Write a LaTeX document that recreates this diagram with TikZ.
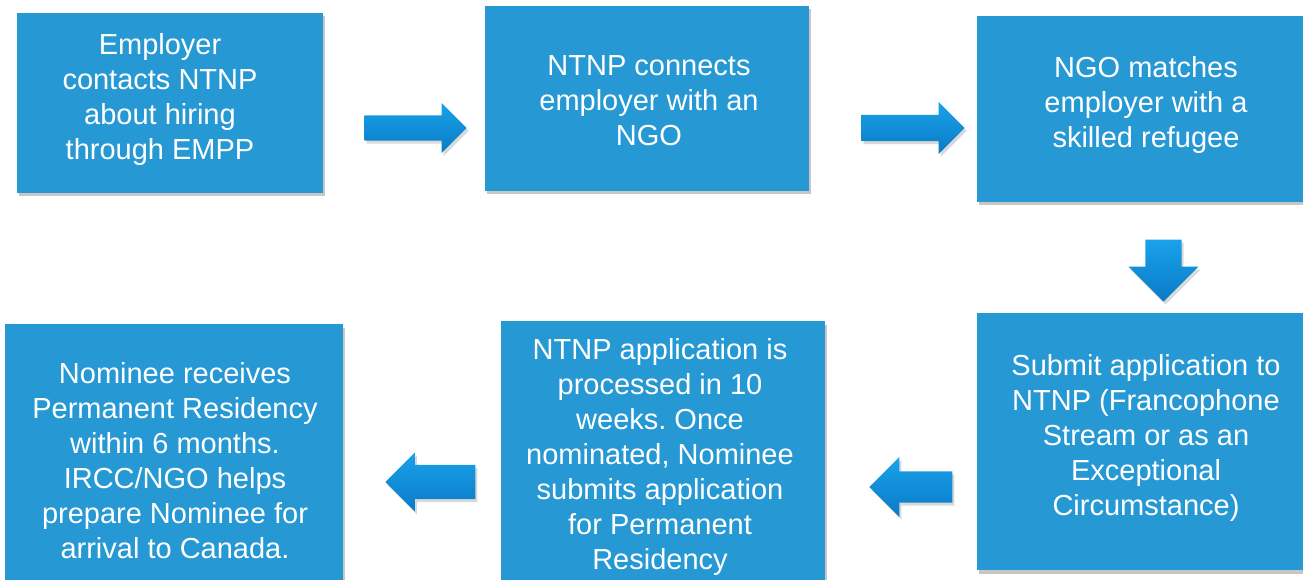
\documentclass[tikz,border=0pt]{standalone}
\usepackage{fontspec}
\setmainfont{Liberation Sans}
\usepackage{xcolor}
\usepackage{tikz}
\usetikzlibrary{shapes,shapes.arrows,positioning,calc,shadows}
\frenchspacing

\definecolor{boxblue}{RGB}{38,152,212}
\definecolor{arrowtop}{RGB}{26,162,234}
\definecolor{arrowbot}{RGB}{10,122,198}

\tikzset{
    stepbox/.style={rectangle, fill=boxblue, inner sep=0pt,
        drop shadow={shadow xshift=2pt, shadow yshift=-3.5pt, opacity=0.22, fill=black}},
    steptext/.style={text=white, align=center, inner sep=0pt,
        font=\fontsize{29}{35}\selectfont},
    flowarrow/.style={single arrow, anchor=tip, top color=arrowtop, bottom color=arrowbot,
        drop shadow={shadow xshift=2pt, shadow yshift=-3pt, opacity=0.15, fill=black}}
}

\begin{document}
\begin{tikzpicture}[x=1pt, y=-1pt]
    \useasboundingbox (0,0) rectangle (1303,580);

    % Top row
    \node[stepbox, minimum width=306pt, minimum height=180pt] (employer) at (170,103) {};
    \node[steptext] (employertxt) at (160,100) {Employer\\contacts NTNP\\about hiring\\through EMPP};
    \node[stepbox, minimum width=324pt, minimum height=185pt] (connect) at (647,98.5) {};
    \node[steptext] (connecttxt) at (649,100.5) {NTNP connects\\employer with an\\NGO};
    \node[stepbox, minimum width=343pt, minimum height=186pt] (match) at (1148.5,109) {};
    \node[steptext] (matchtxt) at (1146,105.5) {NGO matches\\employer with a\\skilled refugee};

    % Bottom row
    \node[stepbox, minimum width=343pt, minimum height=257pt] (submit) at (1148.5,441.5) {};
    \node[steptext] (submittxt) at (1146,438) {Submit application to\\NTNP (Francophone\\Stream or as an\\Exceptional\\Circumstance)};
    \node[stepbox, minimum width=324pt, minimum height=279pt] (process) at (663,460.5) {};
    \node[steptext] (processtxt) at (660,457) {NTNP application is\\processed in 10\\weeks. Once\\nominated, Nominee\\submits application\\for Permanent\\Residency};
    \node[stepbox, minimum width=338pt, minimum height=276pt] (residency) at (174,462) {};
    \node[steptext] (residencytxt) at (175,460.5) {Nominee receives\\Permanent Residency\\within 6 months.\\IRCC/NGO helps\\prepare Nominee for\\arrival to Canada.};

    % Block arrows, placed by their tips (inner sep = half the shaft)
    \node[flowarrow, inner sep=12.5pt, minimum height=102pt, single arrow head extend=12.5pt] (arrowA) at (467,128) {};
    \node[flowarrow, inner sep=13pt, minimum height=103pt, single arrow head extend=13pt] (arrowB) at (965,128) {};
    \node[flowarrow, inner sep=18pt, shape border rotate=270, minimum height=62pt, single arrow head extend=17pt] (arrowC) at (1163.5,302) {};
    \node[flowarrow, inner sep=15.5pt, shape border rotate=180, minimum height=83pt, single arrow head extend=14.5pt] (arrowD) at (869,487) {};
    \node[flowarrow, inner sep=17pt, shape border rotate=180, minimum height=90pt, single arrow head extend=12.5pt] (arrowE) at (385,482) {};
\end{tikzpicture}
\end{document}
